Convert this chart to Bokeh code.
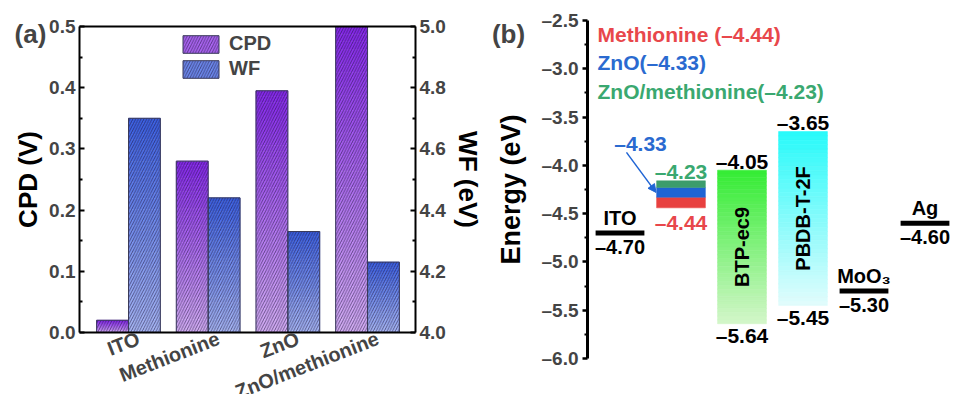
import numpy as np
from bokeh.plotting import figure
from bokeh.models import (Range1d, LinearAxis, FixedTicker, PrintfTickFormatter, Legend,
                          LegendItem, Label, Arrow, NormalHead)
from bokeh.layouts import row
from bokeh.embed import file_html
from bokeh.resources import INLINE
from bokeh.core.properties import value

FONT = "Liberation Sans"

# ---------------- Panel (a) data ----------------
samples = ["ITO", "Methionine", "ZnO", "ZnO/methionine"]
cpd = [0.02, 0.28, 0.395, 0.50]          # V
wf = [4.70, 4.44, 4.33, 4.23]            # eV
cpd_ticks = [0.0, 0.1, 0.2, 0.3, 0.4, 0.5]
cpd_minor = [0.05, 0.15, 0.25, 0.35, 0.45]
wf_ticks = [4.0, 4.2, 4.4, 4.6, 4.8, 5.0]
wf_minor = [4.1, 4.3, 4.5, 4.7, 4.9]

# ---------------- Panel (b) data ----------------
level_names = ["ITO", "MoO₃", "Ag"]
level_values = [-4.70, -5.30, -4.60]
level_slots = [0, 4, 5]
band_names = ["BTP-ec9", "PBDB-T-2F"]
band_lumo = [-4.05, -3.65]
band_homo = [-5.64, -5.45]
band_slots = [2, 3]
layer_names = ["Methionine", "ZnO", "ZnO/methionine"]
layer_values = [-4.44, -4.33, -4.23]
layer_tops = [-4.33, -4.23, -4.16]
layer_colors = ["#e8403f", "#1f64d4", "#3c9c6c"]
layer_text_colors = ["#e8474b", "#2a6ad0", "#3aa870"]
stack_slot = 1
energy_ticks = [-6.0, -5.5, -5.0, -4.5, -4.0, -3.5, -3.0, -2.5]
energy_minor = [-5.75, -5.25, -4.75, -4.25, -3.75, -3.25, -2.75]


def dash(v, nd=2):
    return ("–" if v < 0 else "") + f"{abs(v):.{nd}f}"


def lerp(c0, c1, t):
    return "#%02x%02x%02x" % tuple(int(round(a + (b - a) * t)) for a, b in zip(c0, c1))


def strips(xs, bottoms, tops, c_top, c_bot, n=40):
    X, B, T, C = [], [], [], []
    for x, b, t in zip(xs, bottoms, tops):
        e = np.linspace(b, t, n + 1)
        for k in range(n):
            X.append(x); B.append(e[k]); T.append(e[k + 1])
            C.append(lerp(c_bot, c_top, (k + 0.5) / n))
    return dict(x=X, bottom=B, top=T, color=C)


H = 394
# ---- layout geometry (pixels) ----
WA, WB = 488, 465
A_LEFT, A_RIGHT, A_TOP, A_BOT = 79, 415, 26, 332      # panel (a) axes box
A_STEP = (A_RIGHT - A_LEFT) / 4.217                   # px per category
A_X0 = 128                                            # first category centre
B_AXIS, B_STEP, B_X0 = 587 - WA, 61, 619.5 - WA       # panel (b) axis / slot spacing
B_TOP, B_BOT = 20, 358                                # -2.5 and -6.0 positions

a_xr = Range1d(-A_X0 / A_STEP, (WA - A_X0) / A_STEP)
cpd_ppu = (A_BOT - A_TOP) / (cpd_ticks[-1] - cpd_ticks[0])
a_yr = Range1d(cpd_ticks[0] - (H - A_BOT) / cpd_ppu, cpd_ticks[-1] + A_TOP / cpd_ppu)
wf_ppu = (A_BOT - A_TOP) / (wf_ticks[-1] - wf_ticks[0])
wf_yr = Range1d(wf_ticks[0] - (H - A_BOT) / wf_ppu, wf_ticks[-1] + A_TOP / wf_ppu)
a_left = (A_LEFT - A_X0) / A_STEP
a_right = (A_RIGHT - A_X0) / A_STEP

b_xr = Range1d(-B_X0 / B_STEP, (WB - B_X0) / B_STEP)
e_ppu = (B_BOT - B_TOP) / (energy_ticks[-1] - energy_ticks[0])
b_yr = Range1d(energy_ticks[0] - (H - B_BOT) / e_ppu, energy_ticks[-1] + B_TOP / e_ppu)
b_axis = (B_AXIS - B_X0) / B_STEP

TXT = dict(text_font=value(FONT), text_font_style="bold", text_align="center",
           text_baseline="middle")

# ================= Panel (a) =================
pa = figure(width=WA, height=H, x_range=a_xr, y_range=a_yr, x_axis_type=None,
            y_axis_type=None, output_backend="svg", toolbar_location=None,
            min_border_left=0, min_border_right=0, min_border_top=0, min_border_bottom=0)
pa.extra_y_ranges = {"wf": wf_yr}
pa.grid.visible = False
pa.outline_line_color = None

idx = np.arange(len(samples))
x_cpd = list(idx - 0.2)
x_wf = list(idx + 0.2)

CPD_TOP, CPD_BOT = (135, 38, 238), (214, 176, 246)
WF_TOP, WF_BOT = (58, 96, 228), (168, 184, 246)

s1 = strips(x_cpd, [cpd_ticks[0]] * 4, cpd, CPD_TOP, CPD_BOT)
pa.vbar(x="x", bottom="bottom", top="top", width=0.4, fill_color="color", line_color="color",
        line_width=0.6, source=s1)
s2 = strips(x_wf, [wf_ticks[0]] * 4, wf, WF_TOP, WF_BOT)
pa.vbar(x="x", bottom="bottom", top="top", width=0.4, fill_color="color", line_color="color",
        line_width=0.6, source=s2, y_range_name="wf")

hatch = dict(hatch_pattern="/", hatch_color="#1e163c", hatch_alpha=0.65, hatch_scale=5.5,
             hatch_weight=0.9, line_color="#3a3a5a", line_width=1)
pa.vbar(x=x_cpd, top=cpd, bottom=cpd_ticks[0], width=0.4, fill_color=None, **hatch)
pa.vbar(x=x_wf, top=wf, bottom=wf_ticks[0], width=0.4, fill_color=None, y_range_name="wf",
        **hatch)

# legend: hidden proxies carry the legend styling
leg_cpd = pa.vbar(x=x_cpd[:1], top=cpd[:1], width=0.4, visible=False,
                  fill_color=lerp(CPD_TOP, CPD_BOT, 0.45), **hatch)
leg_wf = pa.vbar(x=x_wf[:1], top=wf[:1], bottom=wf_ticks[0], width=0.4, visible=False,
                 y_range_name="wf", fill_color=lerp(WF_TOP, WF_BOT, 0.45), **hatch)
legend = Legend(items=[LegendItem(label="CPD", renderers=[leg_cpd]),
                       LegendItem(label="WF", renderers=[leg_wf])],
                location=(178, H - 80), glyph_width=45, glyph_height=22, spacing=2, padding=0,
                margin=0, label_standoff=6, label_text_font=FONT, label_text_font_style="bold",
                label_text_font_size="20px", border_line_color=None, background_fill_alpha=0,
                inactive_fill_alpha=0, click_policy="none")
pa.add_layout(legend)

# bottom (category) axis fixed at CPD = 0; labels anchored slightly right of bar pairs
lab_pos = [float(i) + 0.13 for i in idx]
xa = LinearAxis(fixed_location=cpd_ticks[0], bounds=(a_left, a_right))
xa.ticker = FixedTicker(ticks=lab_pos)
xa.major_label_overrides = {p: s for p, s in zip(lab_pos, samples)}
xa.major_label_orientation = 0.37
xa.major_tick_line_color = None
xa.minor_tick_line_color = None
xa.axis_line_width = 2
xa.major_label_text_font = FONT
xa.major_label_text_font_style = "bold"
xa.major_label_text_font_size = "20px"
xa.major_label_standoff = -1
pa.add_layout(xa, "below")

# top frame line
xt = LinearAxis(fixed_location=cpd_ticks[-1], bounds=(a_left, a_right))
xt.ticker = FixedTicker(ticks=[])
xt.major_tick_line_color = None
xt.minor_tick_line_color = None
xt.axis_line_width = 2
pa.add_layout(xt, "above")

ya = LinearAxis(fixed_location=a_left, bounds=(cpd_ticks[0], cpd_ticks[-1]))
ya.ticker = FixedTicker(ticks=cpd_ticks, minor_ticks=cpd_minor)
ya.formatter = PrintfTickFormatter(format="%.1f")
pa.add_layout(ya, "left")

yb = LinearAxis(y_range_name="wf", fixed_location=a_right, bounds=(wf_ticks[0], wf_ticks[-1]))
yb.ticker = FixedTicker(ticks=wf_ticks, minor_ticks=wf_minor)
yb.formatter = PrintfTickFormatter(format="%.1f")
pa.add_layout(yb, "right")

for ax in (ya, yb):
    ax.axis_line_width = 2
    ax.major_tick_in = 5
    ax.major_tick_out = 0
    ax.minor_tick_in = 3
    ax.minor_tick_out = 0
    ax.major_tick_line_width = 2
    ax.minor_tick_line_width = 2
    ax.major_label_text_font = FONT
    ax.major_label_text_font_style = "bold"
    ax.major_label_text_font_size = "19px"
    ax.major_label_standoff = 4

cpd_mid = (cpd_ticks[0] + cpd_ticks[-1]) / 2
pa.text(x=[a_left - 51.5 / A_STEP], y=[cpd_mid], text=["CPD (V)"], angle=np.pi / 2,
        text_font_size="26px", text_color="black", **TXT)
pa.text(x=[a_right + 52.5 / A_STEP], y=[cpd_mid], text=["WF (eV)"], angle=-np.pi / 2,
        text_font_size="26px", text_color="black", **TXT)
pa.add_layout(Label(x=a_left - 49 / A_STEP, y=cpd_ticks[-1] - 7 / cpd_ppu, text="(a)",
                    text_font=FONT, text_font_style="bold", text_font_size="26px",
                    text_align="center", text_baseline="middle"))

# ================= Panel (b) =================
pb = figure(width=WB, height=H, x_range=b_xr, y_range=b_yr, x_axis_type=None,
            y_axis_type=None, output_backend="svg", toolbar_location=None,
            min_border_left=0, min_border_right=0, min_border_top=0, min_border_bottom=0)
pb.grid.visible = False
pb.outline_line_color = None

ey = LinearAxis(fixed_location=b_axis, bounds=(energy_ticks[0], energy_ticks[-1]))
ey.ticker = FixedTicker(ticks=energy_ticks, minor_ticks=energy_minor)
ey.major_label_overrides = {t: dash(t, 1) for t in energy_ticks}
ey.axis_line_width = 3
ey.major_tick_in = 0
ey.major_tick_out = 5
ey.minor_tick_in = 0
ey.minor_tick_out = 3
ey.major_tick_line_width = 2.5
ey.minor_tick_line_width = 2
ey.major_label_text_font = FONT
ey.major_label_text_font_style = "bold"
ey.major_label_text_font_size = "19px"
ey.major_label_standoff = 4
pb.add_layout(ey, "left")

e_mid = (energy_ticks[0] + energy_ticks[-1]) / 2
pb.text(x=[b_axis - 77 / B_STEP], y=[e_mid], text=["Energy (eV)"], angle=np.pi / 2,
        text_font_size="27px", text_color="black", **TXT)

# gradient bands
g1 = strips([band_slots[0]], [band_homo[0]], [band_lumo[0]], (52, 236, 52), (212, 246, 202))
pb.vbar(x="x", bottom="bottom", top="top", width=0.8, fill_color="color", line_color="color",
        line_width=0.6, source=g1)
g2 = strips([band_slots[1]], [band_homo[1]], [band_lumo[1]], (40, 250, 250), (226, 252, 252))
pb.vbar(x="x", bottom="bottom", top="top", width=0.8, fill_color="color", line_color="color",
        line_width=0.6, source=g2)
mid = [(a + b) / 2 for a, b in zip(band_lumo, band_homo)]
pb.text(x=band_slots, y=mid, text=band_names, angle=np.pi / 2, text_font_size="20px",
        text_color="black", **TXT)
pb.text(x=band_slots, y=band_lumo, text=[dash(v) for v in band_lumo], y_offset=-9,
        text_font_size="21px", text_color="black", **TXT)
pb.text(x=band_slots, y=band_homo, text=[dash(v) for v in band_homo], y_offset=12,
        text_font_size="21px", text_color="black", **TXT)

# electrode / interlayer levels
pb.segment(x0=[s - 0.4 for s in level_slots], x1=[s + 0.4 for s in level_slots],
           y0=level_values, y1=level_values, line_width=5, line_color="black")
pb.text(x=level_slots, y=level_values, text=level_names, y_offset=-15,
        text_font_size="20px", text_color="black", **TXT)
pb.text(x=level_slots, y=level_values, text=[dash(v) for v in level_values], y_offset=14,
        text_font_size="20px", text_color="black", **TXT)

# ETL stack
pb.vbar(x=[stack_slot] * 3, bottom=layer_values, top=layer_tops, width=0.8,
        fill_color=layer_colors, line_color=layer_colors, line_width=0.5)
pb.text(x=[stack_slot], y=[layer_values[2]], text=[dash(layer_values[2])], y_offset=-16,
        text_font_size="21px", text_color=layer_text_colors[2], **TXT)
pb.text(x=[stack_slot], y=[layer_values[0]], text=[dash(layer_values[0])], y_offset=15,
        text_font_size="21px", text_color=layer_text_colors[0], **TXT)
pb.text(x=[stack_slot - 0.664], y=[-3.773], text=[dash(layer_values[1])],
        text_font_size="21px", text_color=layer_text_colors[1], **TXT)
pb.add_layout(Arrow(end=NormalHead(size=8, fill_color=layer_colors[1], line_color=layer_colors[1]),
                    x_start=stack_slot - 0.894, y_start=-3.866, x_end=stack_slot - 0.41,
                    y_end=(layer_values[1] + layer_values[2]) / 2,
                    line_color=layer_colors[1], line_width=1.5))

# top legend texts
leg_text = [f"Methionine ({dash(layer_values[0])})", f"ZnO({dash(layer_values[1])})",
            f"ZnO/methionine({dash(layer_values[2])})"]
pb.text(x=[b_axis + 10 / B_STEP] * 3, y=[-2.650, -2.940, -3.240], text=leg_text,
        text_color=layer_text_colors, text_font_size="21px",
        **{**TXT, "text_align": "left"})

pb.add_layout(Label(x=b_axis - 79 / B_STEP, y=energy_ticks[-1] - 13 / e_ppu, text="(b)",
                    text_font=FONT, text_font_style="bold", text_font_size="26px",
                    text_align="center", text_baseline="middle"))

layout = row(pa, pb, spacing=0)
open("out.html", "w").write(file_html(layout, INLINE))
